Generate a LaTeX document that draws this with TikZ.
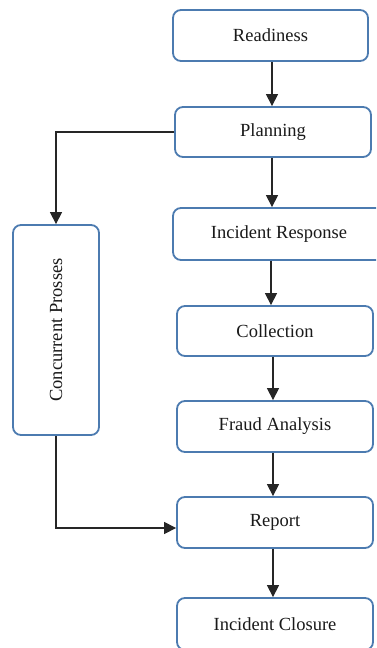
\documentclass[tikz,border=0pt]{standalone}
\usepackage{fontspec}
\setmainfont{Liberation Serif}
\usetikzlibrary{arrows.meta}
\definecolor{boxblue}{HTML}{4C7BB0}
\definecolor{txt}{HTML}{1A1A1A}
\begin{document}
\begin{tikzpicture}[x=1pt,y=-1pt,
  stepbox/.style={draw=boxblue,line width=1.8pt,rounded corners=8pt,fill=white,
    text=txt,font=\fontsize{18.5}{22}\selectfont,inner sep=0pt},
  flow/.style={draw=black!85,line width=1.2pt,-{Triangle[length=12pt,width=12pt]}}]
\useasboundingbox (0,0) rectangle (376,648);
\begin{scope}
\clip (0,0) rectangle (376,648);
\node[stepbox,minimum width=195pt,minimum height=51pt] (rd) at (270.5,35.5) {Readiness};
\node[stepbox,minimum width=196pt,minimum height=50pt] (pl) at (273,132) {Planning};
\node[stepbox,minimum width=212pt,minimum height=52pt] (ir) at (279,234) {Incident Response};
\node[stepbox,minimum width=196pt,minimum height=50pt] (co) at (275,331) {Collection};
\node[stepbox,minimum width=196pt,minimum height=51pt] (fa) at (275,426.5) {Fraud Analysis};
\node[stepbox,minimum width=196pt,minimum height=51pt] (re) at (275,522.5) {Report};
\node[stepbox,minimum width=196pt,minimum height=52pt] (ic) at (275,624) {Incident Closure};
\node[stepbox,minimum width=86pt,minimum height=210pt] (cp) at (56,330) {};
\node[text=txt,font=\fontsize{18.5}{22}\selectfont,rotate=90] (cpt) at (cp.center) {Concurrent Prosses};
\coordinate (k) at (56,528);
\coordinate (a1) at (272,0);
\coordinate (a2) at (272,0);
\coordinate (a3) at (271,0);
\coordinate (a4) at (273,0);
\draw[flow] (a1 |- rd.south) -- (a1 |- pl.north);
\draw[flow] (a2 |- pl.south) -- (a2 |- ir.north);
\draw[flow] (a3 |- ir.south) -- (a3 |- co.north);
\draw[flow] (a4 |- co.south) -- (a4 |- fa.north);
\draw[flow] (a4 |- fa.south) -- (a4 |- re.north);
\draw[flow] (a4 |- re.south) -- (a4 |- ic.north);
\draw[flow] (pl.west) -| (cp.north);
\draw[flow] (cp.south) -- (k) -- (k -| re.west);
\end{scope}
\end{tikzpicture}
\end{document}
